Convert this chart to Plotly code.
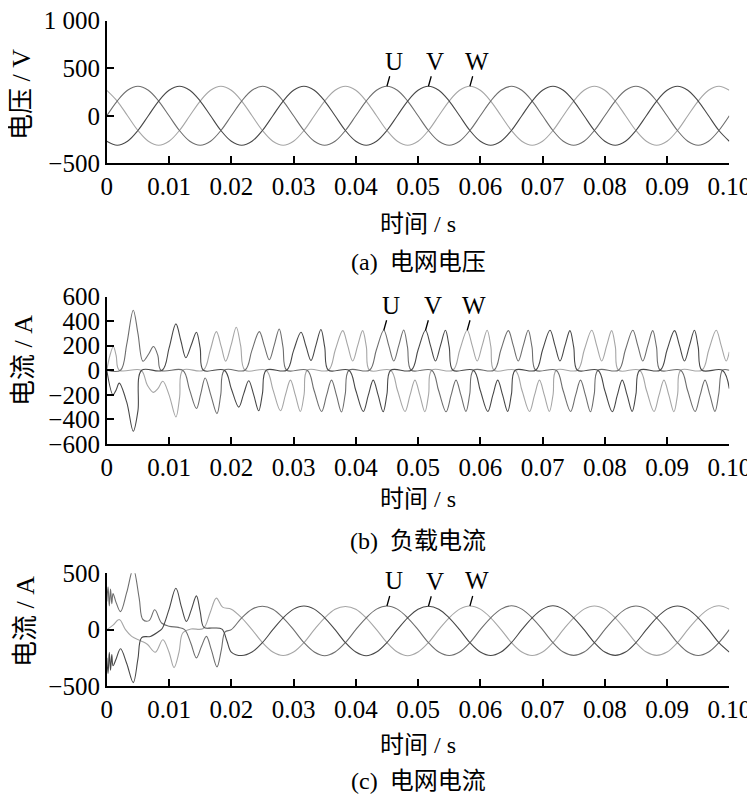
import plotly.graph_objects as go

FONT = "'Times New Roman', 'Liberation Serif', Tinos, 'DejaVu Serif', serif, 'Noto Sans CJK SC'"
C_U, C_V, C_W = "#6e6e6e", "#484848", "#a6a6a6"

# ---------------- (a) grid voltage: samples every 30 electrical degrees ----------------
t_a = [0.0, 0.00167, 0.00333, 0.005, 0.00667, 0.00833, 0.01, 0.01167, 0.01333, 0.015, 0.01667, 0.01833,
       0.02, 0.02167, 0.02333, 0.025, 0.02667, 0.02833, 0.03, 0.03167, 0.03333, 0.035, 0.03667, 0.03833,
       0.04, 0.04167, 0.04333, 0.045, 0.04667, 0.04833, 0.05, 0.05167, 0.05333, 0.055, 0.05667, 0.05833,
       0.06, 0.06167, 0.06333, 0.065, 0.06667, 0.06833, 0.07, 0.07167, 0.07333, 0.075, 0.07667, 0.07833,
       0.08, 0.08167, 0.08333, 0.085, 0.08667, 0.08833, 0.09, 0.09167, 0.09333, 0.095, 0.09667, 0.09833,
       0.1]
u_a = [0, 155, 268, 310, 268, 155, 0, -155, -268, -310, -268, -155,
       0, 155, 268, 310, 268, 155, 0, -155, -268, -310, -268, -155,
       0, 155, 268, 310, 268, 155, 0, -155, -268, -310, -268, -155,
       0, 155, 268, 310, 268, 155, 0, -155, -268, -310, -268, -155,
       0, 155, 268, 310, 268, 155, 0, -155, -268, -310, -268, -155,
       0]
v_a = [-268, -310, -268, -155, 0, 155, 268, 310, 268, 155, 0, -155,
       -268, -310, -268, -155, 0, 155, 268, 310, 268, 155, 0, -155,
       -268, -310, -268, -155, 0, 155, 268, 310, 268, 155, 0, -155,
       -268, -310, -268, -155, 0, 155, 268, 310, 268, 155, 0, -155,
       -268, -310, -268, -155, 0, 155, 268, 310, 268, 155, 0, -155,
       -268]
w_a = [268, 155, 0, -155, -268, -310, -268, -155, 0, 155, 268, 310,
       268, 155, 0, -155, -268, -310, -268, -155, 0, 155, 268, 310,
       268, 155, 0, -155, -268, -310, -268, -155, 0, 155, 268, 310,
       268, 155, 0, -155, -268, -310, -268, -155, 0, 155, 268, 310,
       268, 155, 0, -155, -268, -310, -268, -155, 0, 155, 268, 310,
       268]

# ---------------- (b) load current: key points (zeros, flanks, humps, dips) ----------------
t_ub = [0, 0.0022, 0.0032, 0.00425, 0.005, 0.0058, 0.0067, 0.0075, 0.0082, 0.0087,
        0.0122, 0.0133, 0.0144, 0.0151, 0.0158, 0.0167, 0.0177, 0.0183, 0.0189,
        0.0222, 0.0233, 0.0245, 0.0253, 0.0261, 0.0269, 0.0277, 0.0283, 0.0289,
        0.0322, 0.0333, 0.0345, 0.0353, 0.0361, 0.0369, 0.0377, 0.0383, 0.0389,
        0.0422, 0.0433, 0.0445, 0.0453, 0.0461, 0.0469, 0.0477, 0.0483, 0.0489,
        0.0522, 0.0533, 0.0545, 0.0553, 0.0561, 0.0569, 0.0577, 0.0583, 0.0589,
        0.0622, 0.0633, 0.0645, 0.0653, 0.0661, 0.0669, 0.0677, 0.0683, 0.0689,
        0.0722, 0.0733, 0.0745, 0.0753, 0.0761, 0.0769, 0.0777, 0.0783, 0.0789,
        0.0822, 0.0833, 0.0845, 0.0853, 0.0861, 0.0869, 0.0877, 0.0883, 0.0889,
        0.0922, 0.0933, 0.0945, 0.0953, 0.0961, 0.0969, 0.0977, 0.0983, 0.0989, 0.1]
i_ub = [0, 0, 210, 488, 300, 74, 130, 193, 120, 0,
        0, -160, -311, -190, -63, -200, -353, -200, 0,
        0, 160, 314, 200, 85, 205, 336, 190, 0,
        0, -165, -335, -205, -80, -205, -340, -195, 0,
        0, 165, 325, 200, 75, 200, 328, 190, 0,
        0, -165, -338, -205, -80, -205, -335, -195, 0,
        0, 165, 322, 200, 75, 200, 325, 190, 0,
        0, -165, -335, -205, -80, -205, -338, -195, 0,
        0, 165, 325, 200, 75, 200, 322, 190, 0,
        0, -165, -335, -205, -80, -205, -335, -195, 0, 0]
t_vb = [0, 0.001, 0.0015, 0.002, 0.0032, 0.00425, 0.005, 0.0056,
        0.0089, 0.01, 0.0111, 0.0119, 0.0127, 0.0136, 0.0144, 0.015, 0.0155,
        0.0189, 0.02, 0.0212, 0.022, 0.0228, 0.0236, 0.0244, 0.025, 0.0256,
        0.0289, 0.03, 0.0312, 0.032, 0.0328, 0.0336, 0.0344, 0.035, 0.0356,
        0.0389, 0.04, 0.0412, 0.042, 0.0428, 0.0436, 0.0444, 0.045, 0.0456,
        0.0489, 0.05, 0.0512, 0.052, 0.0528, 0.0536, 0.0544, 0.055, 0.0556,
        0.0589, 0.06, 0.0612, 0.062, 0.0628, 0.0636, 0.0644, 0.065, 0.0656,
        0.0689, 0.07, 0.0712, 0.072, 0.0728, 0.0736, 0.0744, 0.075, 0.0756,
        0.0789, 0.08, 0.0812, 0.082, 0.0828, 0.0836, 0.0844, 0.085, 0.0856,
        0.0889, 0.09, 0.0912, 0.092, 0.0928, 0.0936, 0.0944, 0.095, 0.0956,
        0.0989, 0.1]
i_vb = [0, -200, -160, -105, -260, -496, -330, 0,
        0, 180, 377, 240, 102, 210, 309, 180, 0,
        0, -150, -300, -190, -85, -200, -330, -190, 0,
        0, 160, 309, 195, 80, 205, 331, 190, 0,
        0, -165, -335, -205, -80, -205, -338, -195, 0,
        0, 165, 325, 200, 75, 200, 325, 190, 0,
        0, -165, -335, -205, -80, -205, -335, -195, 0,
        0, 165, 325, 200, 75, 200, 322, 190, 0,
        0, -165, -338, -205, -80, -205, -335, -195, 0,
        0, 165, 322, 200, 75, 200, 325, 190, 0,
        0, -150]
t_wb = [0, 0.0005, 0.00105, 0.0015, 0.002,
        0.0055, 0.0065, 0.0075, 0.0082, 0.009, 0.01, 0.0111, 0.0117, 0.0122,
        0.0155, 0.0166, 0.0176, 0.0184, 0.0191, 0.02, 0.0208, 0.0215, 0.0222,
        0.0256, 0.0267, 0.0279, 0.0287, 0.0295, 0.0303, 0.0311, 0.0317, 0.0322,
        0.0356, 0.0367, 0.0379, 0.0387, 0.0395, 0.0403, 0.0411, 0.0417, 0.0422,
        0.0456, 0.0467, 0.0479, 0.0487, 0.0495, 0.0503, 0.0511, 0.0517, 0.0522,
        0.0556, 0.0567, 0.0579, 0.0587, 0.0595, 0.0603, 0.0611, 0.0617, 0.0622,
        0.0656, 0.0667, 0.0679, 0.0687, 0.0695, 0.0703, 0.0711, 0.0717, 0.0722,
        0.0756, 0.0767, 0.0779, 0.0787, 0.0795, 0.0803, 0.0811, 0.0817, 0.0822,
        0.0856, 0.0867, 0.0879, 0.0887, 0.0895, 0.0903, 0.0911, 0.0917, 0.0922,
        0.0956, 0.0967, 0.0979, 0.0987, 0.0995, 0.1]
i_wb = [0, 120, 193, 120, 0,
        0, -120, -180, -150, -90, -200, -380, -220, 0,
        0, 160, 314, 190, 74, 210, 350, 200, 0,
        0, -160, -330, -200, -80, -205, -335, -195, 0,
        0, 165, 322, 200, 75, 200, 322, 190, 0,
        0, -165, -335, -205, -80, -205, -338, -195, 0,
        0, 165, 325, 200, 75, 200, 325, 190, 0,
        0, -165, -335, -205, -80, -205, -335, -195, 0,
        0, 165, 325, 200, 75, 200, 322, 190, 0,
        0, -165, -335, -205, -80, -205, -338, -195, 0,
        0, 165, 325, 200, 75, 150]

# ---------------- (c) grid current: transient key points + steady 30-degree samples ----------------
t_uc_tr = [0, 0.0002, 0.0004, 0.0006, 0.0008, 0.001, 0.0015, 0.0022, 0.0032, 0.00425, 0.0052, 0.0058, 0.0068,
           0.0077, 0.0088, 0.01, 0.0115, 0.0125, 0.0135, 0.0144, 0.0152, 0.016, 0.0168, 0.0177, 0.0184, 0.019]
i_uc_tr = [250, 380, 210, 360, 230, 320, 240, 160, 330, 540, 280, 90, 80,
           176, 59, 30, 20, 0, -120, -250, -150, -60, -180, -330, -180, -20]
t_vc_tr = [0, 0.0002, 0.0004, 0.0006, 0.0008, 0.001, 0.0015, 0.0022, 0.0032, 0.00425, 0.005, 0.0056, 0.007,
           0.0085, 0.0089, 0.01, 0.0111, 0.012, 0.0128, 0.0136, 0.0144, 0.015, 0.0156, 0.017, 0.0185, 0.0193]
i_vc_tr = [-250, -390, -200, -360, -220, -320, -260, -170, -300, -470, -260, -70, -60,
           -10, 10, 180, 367, 200, 73, 180, 300, 160, 20, 15, 5, -100]
t_wc_tr = [0, 0.001, 0.002, 0.003, 0.004, 0.0055, 0.0065, 0.0078, 0.009, 0.01, 0.0108, 0.0116, 0.0122, 0.0135,
           0.0155, 0.0166, 0.0176, 0.0186]
i_wc_tr = [0, 40, 90, 0, -60, -100, -130, -200, -90, -200, -337, -200, -30, 5,
           10, 150, 280, 200]
t_c_ss = t_a[12:]
u_c_ss = [0, 105, 182, 208, 182, 105, 0, -115, -199, -232, -199, -115,
          0, 105, 182, 210, 182, 105, 0, -115, -199, -230, -199, -115,
          0, 105, 182, 212, 182, 105, 0, -115, -199, -228, -199, -115,
          0, 105, 182, 210, 182, 105, 0, -115, -199, -230, -199, -115,
          0]
v_c_ss = [-199, -230, -199, -115, 0, 105, 182, 210, 182, 105, 0, -115,
          -199, -232, -199, -115, 0, 105, 182, 208, 182, 105, 0, -115,
          -199, -230, -199, -115, 0, 105, 182, 212, 182, 105, 0, -115,
          -199, -228, -199, -115, 0, 105, 182, 210, 182, 105, 0, -115,
          -199]
w_c_ss = [182, 105, 0, -115, -199, -230, -199, -115, 0, 105, 182, 206,
          182, 105, 0, -115, -199, -232, -199, -115, 0, 105, 182, 210,
          182, 105, 0, -115, -199, -230, -199, -115, 0, 105, 182, 210,
          182, 105, 0, -115, -199, -228, -199, -115, 0, 105, 182, 212,
          182]

x_ticks = [0, 0.01, 0.02, 0.03, 0.04, 0.05, 0.06, 0.07, 0.08, 0.09, 0.1]
x_ticktext = ["0", "0.01", "0.02", "0.03", "0.04", "0.05", "0.06", "0.07", "0.08", "0.09", "0.10"]
ya_ticks = [-500, 0, 500, 1000]
ya_text = ["\u2212500", "0", "500", "1 000"]
yb_ticks = [-600, -400, -200, 0, 200, 400, 600]
yb_text = ["\u2212600", "\u2212400", "\u2212200", "0", "200", "400", "600"]
yc_ticks = [-500, 0, 500]
yc_text = ["\u2212500", "0", "500"]

fig = go.Figure()


def add(x, y, color, xa, ya):
    fig.add_trace(go.Scatter(x=x, y=y, mode="lines", xaxis=xa, yaxis=ya,
                             line=dict(color=color, width=1.1, shape="spline", smoothing=1.0),
                             hoverinfo="skip", showlegend=False))


add(t_a, w_a, C_W, "x", "y")
add(t_a, u_a, C_U, "x", "y")
add(t_a, v_a, C_V, "x", "y")
add(t_wb, i_wb, C_W, "x2", "y2")
add(t_ub, i_ub, C_U, "x2", "y2")
add(t_vb, i_vb, C_V, "x2", "y2")
add(t_wc_tr + t_c_ss, i_wc_tr + w_c_ss, C_W, "x3", "y3")
add(t_uc_tr + t_c_ss, i_uc_tr + u_c_ss, C_U, "x3", "y3")
add(t_vc_tr + t_c_ss, i_vc_tr + v_c_ss, C_V, "x3", "y3")

# page body has an 8px margin: figure placed at (8, 8) in the window
OFF = 8
W, H = 747, 792


def fx(px):
    return (px - OFF) / W


def fy(py):
    return 1 - (py - OFF) / H


xdom = [fx(106.8), fx(729.3)]

ax_common = dict(showline=True, linecolor="black", linewidth=1.8, ticks="inside", ticklen=7,
                 tickwidth=1.8, tickcolor="black", showgrid=False, zeroline=False,
                 automargin=False, fixedrange=True, ticklabeloverflow="allow",
                 tickfont=dict(family=FONT, size=25, color="black"))

layout = dict(width=W, height=H, template="none", paper_bgcolor="white", plot_bgcolor="white",
              margin=dict(l=0, r=0, t=0, b=0), showlegend=False)
for i, (top, bot, rng, tv, tt) in enumerate([
        (20.7, 163.3, [-500, 1000], ya_ticks, ya_text),
        (296.5, 444.0, [-600, 600], yb_ticks, yb_text),
        (573.3, 686.0, [-500, 500], yc_ticks, yc_text)]):
    sfx = "" if i == 0 else str(i + 1)
    layout["xaxis" + sfx] = dict(ax_common, domain=xdom, range=[0, 0.1], tickvals=x_ticks,
                                 ticktext=x_ticktext, anchor="y" + sfx)
    layout["yaxis" + sfx] = dict(ax_common, domain=[fy(bot), fy(top)], range=rng, tickvals=tv,
                                 ticktext=tt, anchor="x" + sfx)
fig.update_layout(**layout)

ann = []


def txt(x, y, s, size=24, angle=0):
    ann.append(dict(x=fx(x), y=fy(y), xref="paper", yref="paper", text=s, showarrow=False,
                    textangle=angle, xanchor="center", yanchor="middle",
                    font=dict(family=FONT, size=size, color="black")))


txt(418, 224, "时间 / s")
txt(418, 262, "(a)\u00a0\u00a0电网电压")
txt(418, 499, "时间 / s")
txt(418, 541, "(b)\u00a0\u00a0负载电流")
txt(418, 745, "时间 / s")
txt(418, 781, "(c)\u00a0\u00a0电网电流")
txt(21, 95, "电压 / V", size=26, angle=-90)
txt(23, 361, "电流 / A", size=26, angle=-90)
txt(25, 622, "电流 / A", size=26, angle=-90)

# phase labels with pointer lines to the peaks
for xa, ya, pts in [("x", "y", [(0.045, u_a[27], "U"), (0.05167, v_a[31], "V"), (0.05833, w_a[35], "W")]),
                    ("x2", "y2", [(0.0445, i_ub[39], "U"), (0.0512, i_vb[46], "V"), (0.0579, i_wb[52], "W")]),
                    ("x3", "y3", [(0.045, u_c_ss[15], "U"), (0.05167, v_c_ss[19], "V"), (0.05833, w_c_ss[23], "W")])]:
    for x, y, s in pts:
        ann.append(dict(x=x, y=y, xref=xa, yref=ya, text=s, showarrow=True, arrowhead=0,
                        arrowwidth=1.3, arrowcolor="black", ax=7, ay=-25, standoff=0,
                        font=dict(family=FONT, size=25, color="black")))
fig.update_layout(annotations=ann)

fig.write_html("out.html")
